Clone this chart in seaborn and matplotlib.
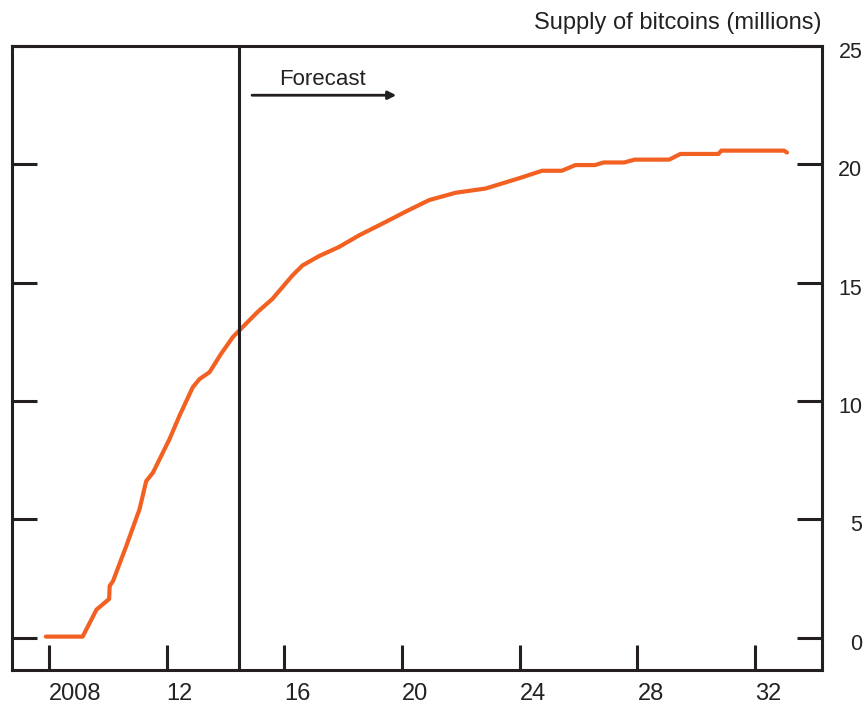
import matplotlib
matplotlib.use("Agg")
import matplotlib.pyplot as plt
import matplotlib.transforms as mtransforms
import seaborn as sns

# Supply of bitcoins (millions)
years = [2007.9, 2009.15, 2009.62, 2010.05, 2010.07, 2010.18, 2010.63, 2011.08,
         2011.31, 2011.54, 2012.10, 2012.44, 2012.89, 2013.12, 2013.46, 2013.85,
         2014.25, 2014.47, 2015.09, 2015.60, 2016.28, 2016.62, 2017.19, 2017.86,
         2018.54, 2019.45, 2020.12, 2020.92, 2021.82, 2022.84, 2023.97, 2024.76,
         2025.43, 2025.89, 2026.56, 2026.85, 2027.55, 2027.9, 2029.08, 2029.46,
         2030.75, 2030.85, 2032.98, 2033.08]
supply = [0.05, 0.05, 1.19, 1.64, 2.2, 2.39, 3.87, 5.42,
          6.62, 6.98, 8.39, 9.38, 10.58, 10.93, 11.22, 11.99,
          12.70, 12.98, 13.76, 14.32, 15.31, 15.73, 16.13, 16.51,
          17.0, 17.57, 18.0, 18.49, 18.80, 18.98, 19.41, 19.73,
          19.73, 19.97, 19.97, 20.08, 20.08, 20.20, 20.20, 20.44,
          20.44, 20.58, 20.58, 20.50]

x_ticks = [2008, 2012, 2016, 2020, 2024, 2028, 2032]
x_labels = ["2008", "12", "16", "20", "24", "28", "32"]
y_ticks = [0, 5, 10, 15, 20, 25]
forecast_start = 2014.47

sns.set_style("white")
plt.rcParams["font.family"] = ["Liberation Sans", "DejaVu Sans"]
text_color = "#222222"
ink = "#231f20"

fig = plt.figure(figsize=(8.64, 7.04), dpi=100)
ax = fig.add_axes([12 / 864, 34 / 704, 810 / 864, 624 / 704])

sns.lineplot(x=years, y=supply, ax=ax, color="#F26122", linewidth=3,
             sort=False, estimator=None)

# forecast marker
ax.axvline(forecast_start, color=ink, linewidth=2.2)
ax.annotate("", xy=(2019.9, 22.92), xytext=(2014.81, 22.92),
            arrowprops=dict(arrowstyle="-|>", color=ink, lw=2,
                            mutation_scale=12))
ax.text(2015.83, 23.6, "Forecast", fontsize=16, color=text_color,
        ha="left", va="center")

ax.set_xlim(2006.75, 2034.27)
ax.set_ylim(-1.36, 25)
ax.set_xticks(x_ticks)
ax.set_xticklabels(x_labels, ha="left")
ax.set_yticks(y_ticks)

for side in ["left", "right", "top", "bottom"]:
    ax.spines[side].set_visible(True)
    ax.spines[side].set_color(ink)
    ax.spines[side].set_linewidth(2.2)

ax.tick_params(axis="x", direction="in", length=18, width=2.2, bottom=True,
               color=ink, labelsize=17, labelcolor=text_color, pad=9)
ax.tick_params(axis="y", direction="in", length=18, width=2.2,
               color=ink, left=True, right=True, labelleft=False,
               labelright=True, labelsize=15.5, labelcolor=text_color, pad=29)

# right-hand labels are right-aligned and sit a little low
shift = mtransforms.ScaledTranslation(0, -4 / 100, fig.dpi_scale_trans)
for lab in ax.get_yticklabels(which="both"):
    lab.set_horizontalalignment("right")
for tick in ax.yaxis.get_major_ticks():
    tick.label2.set_horizontalalignment("right")
    tick.label2.set_transform(tick.label2.get_transform() + shift)

ax.text(1.0, 1.037, "Supply of bitcoins (millions)", transform=ax.transAxes,
        ha="right", va="center", fontsize=17, color=text_color)

fig.savefig("out.png", dpi=100, facecolor="white")
